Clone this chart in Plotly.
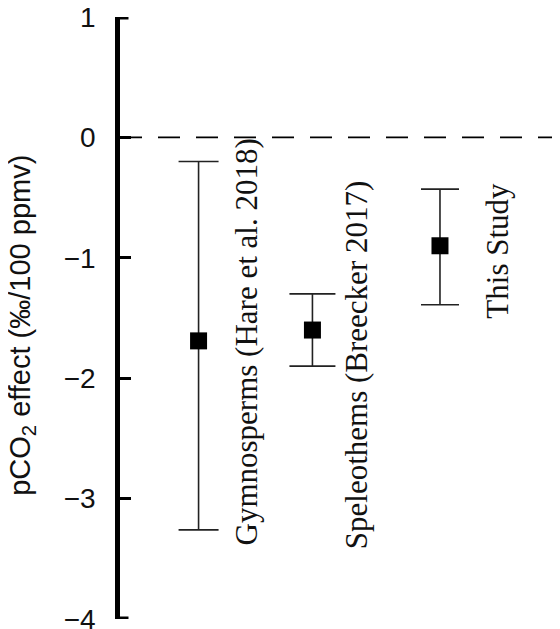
import plotly.graph_objects as go

# ---- data ----
labels = ["Gymnosperms (Hare et al. 2018)", "Speleothems (Breecker 2017)", "This Study"]
x_pos = [0.69, 1.69, 2.81]          # horizontal placement of each study (axis units)
effect = [-1.69, -1.60, -0.90]      # pCO2 effect (‰/100 ppmv)
upper = [-0.20, -1.30, -0.43]       # top of error bar
lower = [-3.26, -1.90, -1.39]       # bottom of error bar
cap_half_width = [20, 23, 19]       # px

y_ticks = [1, 0, -1, -2, -3, -4]
y_range = [-4, 1]
x_range = [0, 3.864]
y_title = "pCO<sub>2</sub> effect (‰/100 ppmv)"

# label anchors (axis units)
label_x = [1.11, 2.083, 3.32]
label_y = [-1.70, -1.89, -0.94]

fig = go.Figure()
for i in range(len(labels)):
    fig.add_trace(go.Scatter(
        x=[x_pos[i]], y=[effect[i]], mode="markers",
        marker=dict(symbol="square", size=17, color="black"),
        error_y=dict(type="data", symmetric=False,
                     array=[upper[i] - effect[i]],
                     arrayminus=[effect[i] - lower[i]],
                     color="#222222", thickness=1.6, width=cap_half_width[i]),
        showlegend=False, name=labels[i],
    ))
    fig.add_annotation(x=label_x[i], y=label_y[i], text=labels[i], textangle=-90,
                       showarrow=False, xanchor="center", yanchor="middle",
                       font=dict(family="Liberation Serif", size=31, color="#111111"))

# y-axis title as a rotated annotation
fig.add_annotation(xref="paper", yref="y", x=-0.2213, y=-1.56, text=y_title,
                   textangle=-90, showarrow=False, xanchor="center", yanchor="middle",
                   font=dict(family="Liberation Sans", size=29, color="#111111"))

# dashed zero line
fig.add_shape(type="line", xref="paper", yref="y", x0=0, x1=1, y0=0, y1=0,
              line=dict(color="black", width=1.8, dash="22px,16px"))
# thick end caps of the y axis
for yv in y_range:
    fig.add_shape(type="line", xref="paper", yref="y", x0=-0.0102, x1=0.0193,
                  y0=yv, y1=yv, line=dict(color="black", width=5))

fig.update_layout(
    width=552, height=621,
    margin=dict(l=111.5, r=0, t=9, b=10, autoexpand=False),
    paper_bgcolor="white", plot_bgcolor="white",
    xaxis=dict(range=x_range, visible=False, fixedrange=True, automargin=False),
    yaxis=dict(range=y_range, tickvals=y_ticks, showgrid=False, zeroline=False,
               automargin=False,
               showline=True, linewidth=4.5, linecolor="black",
               ticks="inside", ticklen=11, tickwidth=2.5, tickcolor="black",
               ticklabelstandoff=14, ticklabeloverflow="allow",
               tickfont=dict(family="Liberation Sans", size=28, color="#111111")),
)

fig.write_html("out.html")
